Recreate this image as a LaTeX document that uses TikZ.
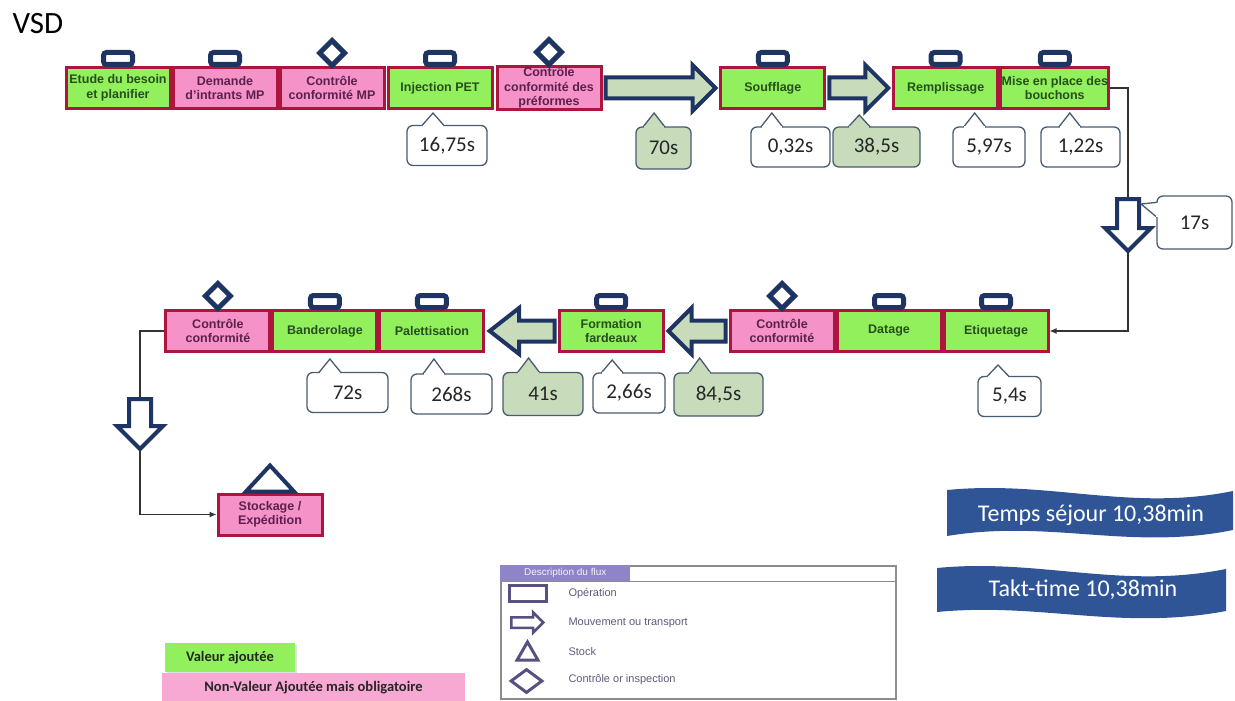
\documentclass[tikz,border=0pt]{standalone}
\usepackage{fontspec}
\setmainfont{Carlito}
\newfontfamily\arialfont{Liberation Sans}
\usetikzlibrary{positioning}
\usetikzlibrary{calc}
\usetikzlibrary{shapes.geometric}
\usetikzlibrary{shapes.arrows}
\usetikzlibrary{arrows.meta}
\usetikzlibrary{shadows}

\definecolor{vagreen}{RGB}{146,240,92}
\definecolor{nvpink}{RGB}{245,146,200}
\definecolor{boxline}{RGB}{172,22,62}
\definecolor{vatext}{RGB}{38,78,30}
\definecolor{nvtext}{RGB}{92,32,78}
\definecolor{navy}{RGB}{30,52,98}
\definecolor{movefill}{RGB}{200,220,188}
\definecolor{calloutline}{RGB}{72,92,112}
\definecolor{bannerblue}{RGB}{47,85,151}
\definecolor{legendpurple}{RGB}{142,132,200}
\definecolor{legendicon}{RGB}{88,80,128}
\definecolor{legendtext}{RGB}{96,90,124}

\tikzset{
  stepbase/.style={rectangle, draw=boxline, line width=3, minimum width=104, minimum height=41,
    inner sep=1, align=center, font=\arialfont\bfseries\fontsize{12.5}{14.5}\selectfont},
  vabox/.style={stepbase, fill=vagreen, text=vatext},
  nvbox/.style={stepbase, fill=nvpink, text=nvtext},
  opicon/.style={rectangle, draw=navy, fill=white, line width=5, rounded corners=3,
    minimum width=29, minimum height=12, inner sep=0},
  ctlicon/.style={diamond, draw=navy, fill=white, line width=5, minimum width=27,
    minimum height=27, inner sep=0},
  harrow/.style={single arrow, draw=navy, fill=movefill, line width=4, inner sep=8.5,
    single arrow head extend=12.5},
  varrow/.style={single arrow, draw=navy, fill=white, line width=4, inner sep=9,
    single arrow head extend=12, shape border rotate=270},
  timebox/.style={rectangle, draw=calloutline, fill=white, line width=1.3,
    rounded corners=6, minimum height=40, inner sep=0,
    font=\fontsize{21}{24}\selectfont, text=black!85},
  timeboxg/.style={timebox, fill=movefill},
  flow/.style={draw=black!80, line width=1.2, -{Latex[length=7,width=6]}},
  legitem/.style={anchor=west, text=legendtext, font=\arialfont\fontsize{11}{13}\selectfont},
}

% pointer on top of a time box: box, target, fill
\newcommand{\timepointer}[3]{%
  \coordinate (tptip) at (#2);
  \coordinate (tpfoot) at ($(#1.north west)!(tptip)!(#1.north east)$);
  \filldraw[draw=calloutline, line width=1.3, fill=#3]
    ([xshift=-11,yshift=-0.65]tpfoot) -- (tptip) -- ([xshift=11,yshift=-0.65]tpfoot);
  \fill[#3] ([xshift=-10.2,yshift=-0.1]tpfoot) rectangle ([xshift=10.2,yshift=-1.7]tpfoot);
}

\begin{document}
\begin{tikzpicture}[x=1pt, y=-1pt]
\useasboundingbox (0,0) rectangle (1235,701);
\node[anchor=west, font=\fontsize{31}{34}\selectfont] (title) at (9,24) {VSD};

% first line of the flow
\node[vabox] (etude) at (118,88) {Etude du besoin\\et planifier};
\node[nvbox, right=0pt of etude] (demande) {Demande\\d’intrants MP};
\node[nvbox, right=0pt of demande] (ctlmp) {Contrôle\\conformité MP};
\node[vabox, right=1pt of ctlmp] (inject) {Injection PET};
\node[nvbox, right=2pt of inject] (ctlpref) {Contrôle\\conformité des\\préformes};
\node[harrow, anchor=tail, minimum height=110] (mv1) at ([xshift=1]ctlpref.east) {};
\node[vabox, right=1pt of mv1.tip] (souff) {Soufflage};
\node[harrow, anchor=tail, minimum height=59] (mv2) at ([xshift=1]souff.east) {};
\node[vabox, right=1pt of mv2.tip] (rempl) {Remplissage};
\node[vabox, right=0pt of rempl] (bouch) {Mise en place des\\bouchons};

% second line, right to left
\node[vabox] (etiq) at (996,331) {Etiquetage};
\node[vabox, left=0pt of etiq] (datage) {Datage};
\node[nvbox, left=0pt of datage] (ctlcc1) {Contrôle\\conformité};
\node[harrow, shape border rotate=180, anchor=tail, minimum height=57] (mv3) at ([xshift=-1]ctlcc1.west) {};
\node[vabox, left=1pt of mv3.tip] (form) {Formation\\fardeaux};
\node[harrow, shape border rotate=180, single arrow tip angle=76, anchor=tail, minimum height=65] (mv4) at ([xshift=-1]form.west) {};
\node[vabox, left=1pt of mv4.tip] (palet) {Palettisation};
\node[vabox, left=0pt of palet] (bander) {Banderolage};
\node[nvbox, left=0pt of bander] (ctlcc2) {Contrôle\\conformité};

\node[nvbox] (stock) at (270,514.5) {Stockage /\\Expédition};

% symbols above the steps
\foreach \b in {etude,demande,inject,souff,rempl,bouch,bander,palet,form,datage,etiq}
  \node[opicon, above=-1pt of \b] (op-\b) {};
\foreach \b in {ctlmp,ctlpref,ctlcc1,ctlcc2}
  \node[ctlicon, above=-3pt of \b] (ctl-\b) {};
\draw[line width=4, draw=navy, fill=white] ([xshift=-24,yshift=1]stock.north)
  -- ([yshift=27]stock.north) -- ([xshift=24,yshift=1]stock.north) -- cycle;

% links between the lines
\coordinate (rturn) at (1128,331);
\draw[flow] (bouch.east) -| (rturn) -- (etiq.east);
\node[varrow, anchor=tail, minimum height=52] (mv5) at (1128,197) {};
\coordinate (lturn) at (140,514.5);
\draw[flow] (ctlcc2.west) -| (lturn) -- (stock.west);
\node[varrow, anchor=tail, minimum height=50] (mv6) at (140,397) {};

% times
\node[timebox, minimum width=80] (tc1) at (447,145.5) {16,75s};
\timepointer{tc1}{[xshift=-7,yshift=-3]inject.south}{white}
\node[timeboxg, minimum width=55, minimum height=42] (tc2) at (663.5,148) {70s};
\timepointer{tc2}{$(mv1.tail)!0.44!(mv1.tip)+(0,25)$}{movefill}
\node[timebox, minimum width=79] (tc3) at (790.5,147) {0,32s};
\timepointer{tc3}{[xshift=-1,yshift=-3]souff.south}{white}
\node[timeboxg, minimum width=87] (tc4) at (876.5,147) {38,5s};
\timepointer{tc4}{$(mv2.tail)!0.5!(mv2.tip)+(0,27)$}{movefill}
\node[timebox, minimum width=72] (tc5) at (989,147) {5,97s};
\timepointer{tc5}{[xshift=29,yshift=-3]rempl.south}{white}
\node[timebox, minimum width=79] (tc6) at (1080.5,147) {1,22s};
\timepointer{tc6}{[xshift=15,yshift=-3]bouch.south}{white}
\node[timebox, minimum width=75, minimum height=53] (tc7) at (1194.5,222.5) {17s};
\filldraw[draw=calloutline, line width=1.3, fill=white]
  ([xshift=0.65,yshift=-7]tc7.north west) -- ([yshift=-7]mv5.after tail) -- ([xshift=0.65,yshift=-22]tc7.north west);
\fill[white] ([xshift=0.1,yshift=-7.7]tc7.north west) rectangle ([xshift=1.7,yshift=-21.3]tc7.north west);

\node[timebox, minimum width=81] (tc8) at (347.5,392.5) {72s};
\timepointer{tc8}{[xshift=5,yshift=-6]bander.south}{white}
\node[timebox, minimum width=81] (tc9) at (451.5,394) {268s};
\timepointer{tc9}{[xshift=2,yshift=-6]palet.south}{white}
\node[timeboxg, minimum width=80, minimum height=43] (tc10) at (543,394) {41s};
\timepointer{tc10}{$(mv4.tail)!0.4!(mv4.tip)+(0,27)$}{movefill}
\node[timebox, minimum width=72] (tc11) at (629,393) {2,66s};
\timepointer{tc11}{[xshift=1,yshift=-7]form.south}{white}
\node[timeboxg, minimum width=89, minimum height=43] (tc12) at (718.5,394.5) {84,5s};
\timepointer{tc12}{$(mv3.tail)!0.45!(mv3.tip)+(0,27)$}{movefill}
\node[timebox, minimum width=63] (tc13) at (1009.5,396.5) {5,4s};
\timepointer{tc13}{[xshift=2,yshift=-12]etiq.south}{white}

% totals
\fill[bannerblue] (947,490) .. controls (1050,480) and (1130,512) .. (1233,491)
  -- (1233,530) .. controls (1130,551) and (1050,519) .. (947,536) -- cycle;
\node[text=white, font=\fontsize{24}{28}\selectfont] (sejour) at (1091,515) {Temps séjour 10,38min};
\fill[bannerblue] (937,568) .. controls (1040,558) and (1120,590) .. (1226,569)
  -- (1226,611) .. controls (1120,631) and (1040,602) .. (937,612) -- cycle;
\node[text=white, font=\fontsize{24}{28}\selectfont] (takt) at (1083,590) {Takt-time 10,38min};

% legend
\node[draw=black!45, line width=1.5, minimum width=395, minimum height=133, anchor=north west, inner sep=0] (legend) at (500,565) {};
\node[anchor=north west, fill=legendpurple, minimum width=130, minimum height=16, inner sep=0,
  text=white!90!legendpurple, font=\arialfont\fontsize{10}{12}\selectfont] (leghead) at (legend.north west) {Description du flux};
\draw[black!45, line width=1] (leghead.south west) -- (leghead.south -| legend.east);
\node[draw=legendicon, line width=3, minimum width=37, minimum height=16, inner sep=0] (legop) at (528,593.5) {};
\node[legitem] (legoptxt) at (565,594) {Opération};
\node[single arrow, draw=legendicon, fill=white, line width=2.5, inner sep=4, single arrow head extend=5,
  minimum height=32, anchor=tail] (legmv) at (510,622.5) {};
\node[legitem] (legmvtxt) at (565,623) {Mouvement ou transport};
\node[regular polygon, regular polygon sides=3, draw=legendicon, line width=3, minimum size=24, inner sep=0] (legst) at (527.5,654) {};
\node[legitem] (legsttxt) at (565,652) {Stock};
\node[diamond, draw=legendicon, fill=white, line width=3, minimum width=32, minimum height=24, inner sep=0] (legctl) at (526.5,681) {};
\node[legitem] (legctltxt) at (565,680) {Contrôle or inspection};

\node[fill=vagreen, minimum width=130, minimum height=29, drop shadow={opacity=0.25, shadow xshift=2pt, shadow yshift=-2pt},
  font=\bfseries\fontsize{14.5}{16}\selectfont, text=black!85] (legva) at (230,657.5) {Valeur ajoutée};
\node[fill=nvpink!80!white, minimum width=303, minimum height=30,
  font=\bfseries\fontsize{14.5}{16}\selectfont, text=black!85] (legnv) at (313.5,688) {Non-Valeur Ajoutée mais obligatoire};
\end{tikzpicture}
\end{document}
